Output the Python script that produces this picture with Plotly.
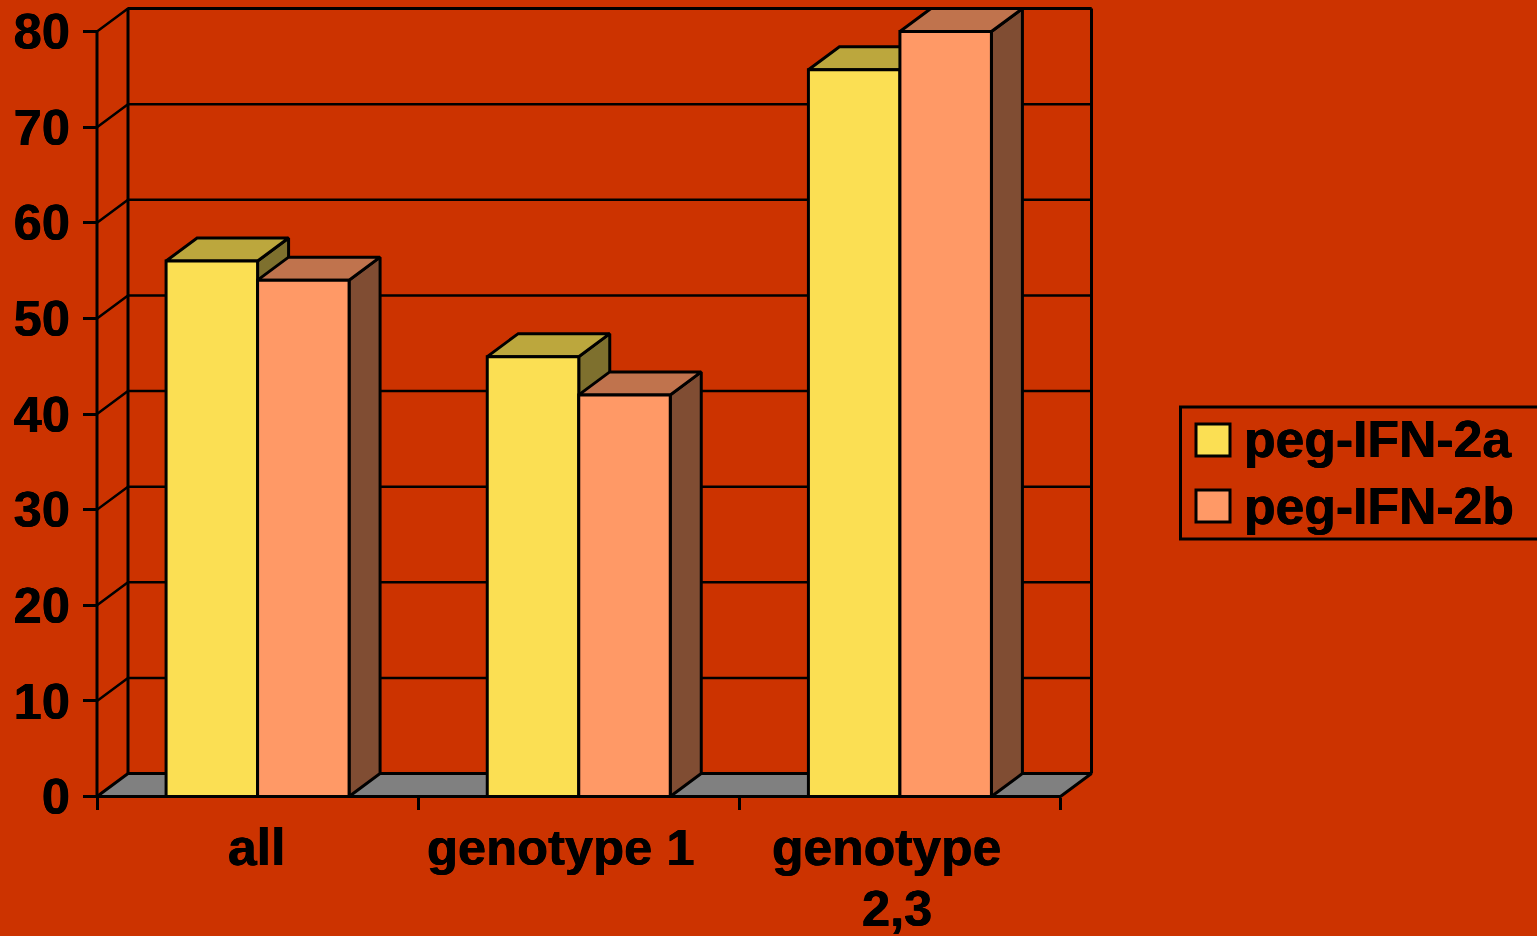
import plotly.graph_objects as go

# ---- data ----
categories = ["all", "genotype 1", "genotype 2,3"]
peg_2a = [56, 46, 76]
peg_2b = [54, 42, 80]
y_ticks = [0, 10, 20, 30, 40, 50, 60, 70, 80]
series_names = ["peg-IFN-2a", "peg-IFN-2b"]

# ---- layout constants ----
W, H = 1537, 936
X0, X1 = 97.0, 1060.5      # front plane, pixels
Y0, Y80 = 796.5, 31.5
PX_X = (X1 - X0) / 3
PX_Y = (Y0 - Y80) / 80
DX = 31 / PX_X             # oblique depth, in axis units
DY = 23 / PX_Y
BW = 91.5 / PX_X           # bar width, axis units
BG = "#CC3300"
FONT = "Liberation Sans"
FS = 50.5
FS_LEGEND = 51.7
LW = 3
HEAVY = "0.4px 0 0 #000, -0.4px 0 0 #000"

STYLE = [
    dict(front="#FBDF53", top="#BCA73D", side="#7E702E"),
    dict(front="#FF9966", top="#C0734D", side="#804D33"),
]


def poly(xs, ys, fill, name=None):
    return go.Scatter(x=xs, y=ys, mode="lines", fill="toself", fillcolor=fill, name=name,
                      line=dict(color="black", width=LW), hoverinfo="skip", showlegend=False)


def wire(xs, ys, width):
    return go.Scatter(x=xs, y=ys, mode="lines", line=dict(color="black", width=width),
                      hoverinfo="skip", showlegend=False)


fig = go.Figure()

# back wall grid + side wall
gx, gy = [], []
for v in y_ticks[1:]:
    gx += [0, DX, 3 + DX, None]
    gy += [v, v + DY, v + DY, None]
fig.add_trace(wire(gx, gy, 2.5))
# floor
fig.add_trace(poly([0, DX, 3 + DX, 3, 0], [0, DY, DY, 0, 0], "#808080"))
# wall verticals and top edge
fig.add_trace(wire([DX, DX, None, 3 + DX, 3 + DX], [DY, 80 + DY, None, DY, 80 + DY], LW))
fig.add_trace(wire([DX, 3 + DX], [80 + DY, 80 + DY], 3.2))

# bars
centers = [i + 0.5 for i in range(len(categories))]
for s, vals in enumerate([peg_2a, peg_2b]):
    st = STYLE[s]
    for c, v in zip(centers, vals):
        left = c - BW if s == 0 else c
        right = left + BW
        fig.add_trace(poly([right, right + DX, right + DX, right, right],
                           [0, DY, v + DY, v, 0], st["side"]))
        fig.add_trace(poly([left, left + DX, right + DX, right, left],
                           [v, v + DY, v + DY, v, v], st["top"]))
        fig.add_trace(poly([left, right, right, left, left], [0, 0, v, v, 0], st["front"],
                           name=series_names[s]))

# front axis lines
fig.add_trace(wire([0, 0, 3], [80, 0, 0], LW))


def px(x):
    return x / W


def py(y):
    return 1 - y / H


annotations = []
# category labels: text, centre x, baseline y, font size
label_lines = [("all", 256, 864, 51.6), ("genotype 1", 561, 864, 50.7),
               ("genotype", 887, 864, 51.6), ("2,3", 897, 925, 50.5)]
for text, cx, baseline, size in label_lines:
    annotations.append(dict(text=f"<b>{text}</b>", x=px(cx), y=py(baseline - 30), yshift=-42.5,
                            xref="paper", yref="paper", xanchor="center", yanchor="bottom",
                            showarrow=False, borderpad=0,
                            font=dict(family=FONT, size=size, color="black", shadow=HEAVY)))

# legend
shapes = [dict(type="rect", xref="paper", yref="paper", x0=px(1180.5), x1=px(1545),
               y0=py(539), y1=py(407), line=dict(color="black", width=3), fillcolor=BG)]
for name, st, (t, b), base in zip(series_names, STYLE, [(424, 456), (490, 522)], [457, 523]):
    shapes.append(dict(type="rect", xref="paper", yref="paper", x0=px(1196), x1=px(1230),
                       y0=py(b), y1=py(t), line=dict(color="black", width=3),
                       fillcolor=st["front"]))
    annotations.append(dict(text=f"<b>{name}</b>", x=px(1243), y=py(base - 30), yshift=-42.5,
                            xref="paper", yref="paper", xanchor="left", yanchor="bottom",
                            showarrow=False, borderpad=0,
                            font=dict(family=FONT, size=FS_LEGEND, color="black", shadow=HEAVY)))

fig.update_layout(
    width=W, height=H, autosize=False,
    margin=dict(l=0, r=0, t=0, b=0, pad=0),
    paper_bgcolor=BG, plot_bgcolor="rgba(0,0,0,0)",
    showlegend=False, hovermode=False,
    xaxis=dict(domain=[0, 1], range=[-X0 / PX_X, (W - X0) / PX_X], automargin=False,
               anchor="free", position=1 - Y0 / H, tickmode="array",
               tickvals=[0, 1, 2, 3], showticklabels=False,
               ticks="outside", ticklen=12, tickwidth=2.5, tickcolor="black",
               showline=False, showgrid=False, zeroline=False),
    yaxis=dict(domain=[0, 1], range=[-(H - Y0) / PX_Y, Y0 / PX_Y], automargin=False,
               anchor="free", position=X0 / W, tickmode="array",
               tickvals=y_ticks, ticktext=[f"<b>{v}</b>" for v in y_ticks],
               ticks="outside", ticklen=14, tickwidth=2.5, tickcolor="black",
               tickfont=dict(family=FONT, size=FS, color="black", shadow=HEAVY),
               ticklabelstandoff=3,
               showline=False, showgrid=False, zeroline=False),
    annotations=annotations,
    shapes=shapes,
)

fig.write_html("out.html", config=dict(displayModeBar=False),
               post_script="document.body.style.margin='0';document.body.style.overflow='hidden';document.body.style.background='#CC3300';")
